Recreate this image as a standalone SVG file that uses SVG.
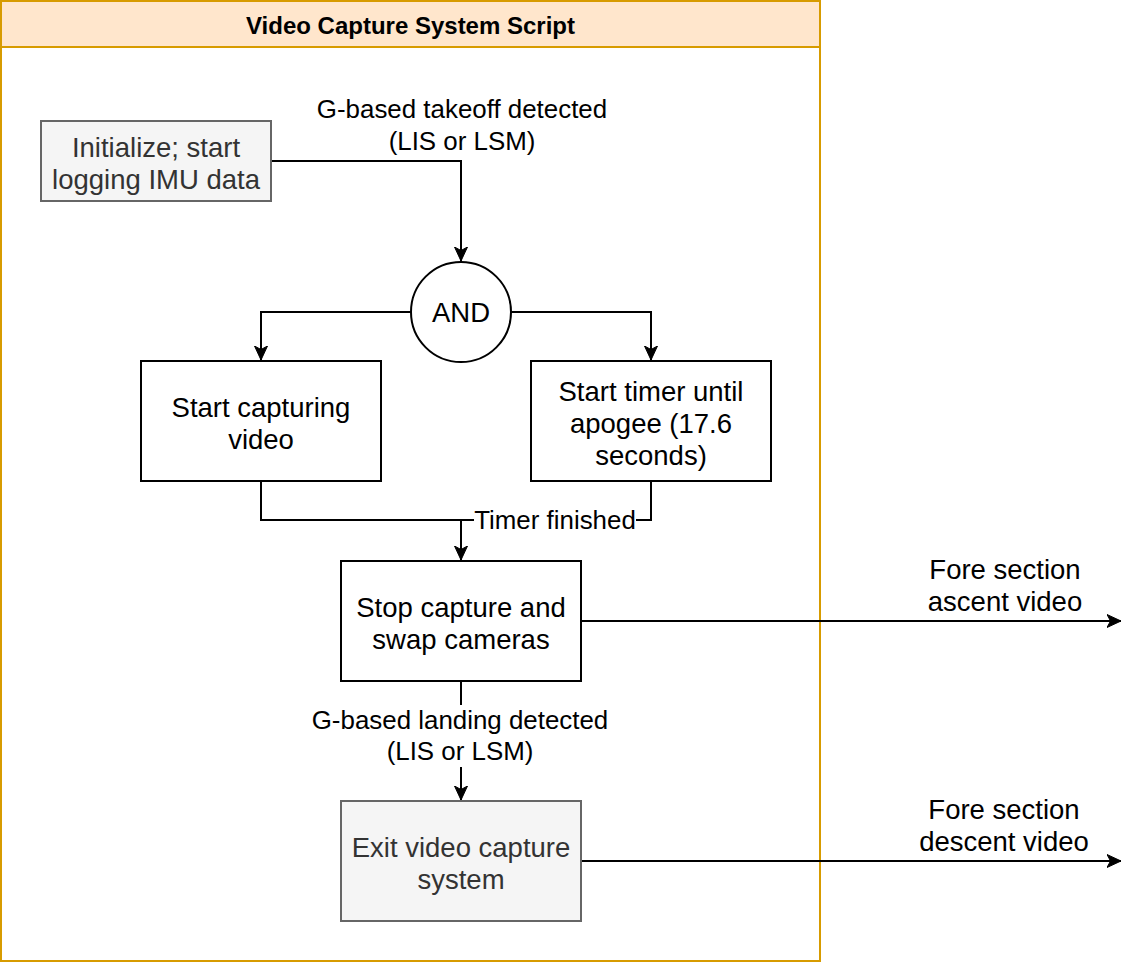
<svg xmlns="http://www.w3.org/2000/svg" width="1138" height="962" viewBox="0 0 1138 962">
<style>
.t{font-family:"Liberation Sans",Arial,Helvetica,sans-serif;text-anchor:middle;dominant-baseline:central}
.n{font-size:27.5px;fill:#000}
.g{font-size:27.5px;fill:#333}
.l{font-size:25.9px;fill:#000}
.f{font-size:27.5px;fill:#000}
.box{fill:#fff;stroke:#000;stroke-width:2}
.gbox{fill:#f5f5f5;stroke:#666;stroke-width:2}
.e{fill:none;stroke:#000;stroke-width:2}
</style>
<defs>
<marker id="a" markerUnits="userSpaceOnUse" markerWidth="16" markerHeight="16" refX="14" refY="8" orient="auto">
<path d="M0,1.5 L14,8 L0,14.5 L3.5,8 Z" fill="#000" stroke="#000" stroke-width="1"/>
</marker>
</defs>
<g id="container">
<rect x="1" y="1" width="819" height="960" fill="#fff" stroke="#d79b00" stroke-width="2"/>
<rect x="1" y="1" width="819" height="46" fill="#ffe6cc" stroke="#d79b00" stroke-width="2"/>
<text class="t" x="410.5" y="25" style="font-size:24px;font-weight:bold">Video Capture System Script</text>
</g>
<g id="connectors">
<path class="e" d="M271,161 H461 V261" marker-end="url(#a)"/>
<text class="t l" x="462" y="109">G-based takeoff detected</text>
<text class="t l" x="462" y="141">(LIS or LSM)</text>
<path class="e" d="M411,312 H261 V360" marker-end="url(#a)"/>
<path class="e" d="M511,312 H651 V360" marker-end="url(#a)"/>
<path class="e" d="M261,481 V520 H461 V560" marker-end="url(#a)"/>
<path class="e" d="M651,481 V520 H461"/>
<rect x="474" y="506" width="162" height="28" fill="#fff"/>
<text class="t l" x="555" y="520">Timer finished</text>
<path class="e" d="M581,621 H1121" marker-end="url(#a)"/>
<text class="t f" x="1005" y="569">Fore section</text>
<text class="t f" x="1005" y="601">ascent video</text>
<path class="e" d="M461,681 V800" marker-end="url(#a)"/>
<rect x="306" y="705" width="310" height="62" fill="#fff"/>
<text class="t l" x="460" y="720">G-based landing detected</text>
<text class="t l" x="460" y="751">(LIS or LSM)</text>
<path class="e" d="M581,861 H1121" marker-end="url(#a)"/>
<text class="t f" x="1004" y="809">Fore section</text>
<text class="t f" x="1004" y="841">descent video</text>
</g>
<g id="init">
<rect class="gbox" x="41" y="121" width="230" height="80"/>
<text class="t g" x="156" y="147">Initialize; start</text>
<text class="t g" x="156" y="179">logging IMU data</text>
</g>
<g id="and">
<circle cx="461" cy="312" r="50" fill="#fff" stroke="#000" stroke-width="2"/>
<text class="t n" x="461" y="312">AND</text>
</g>
<g id="startCapture">
<rect class="box" x="141" y="361" width="240" height="120"/>
<text class="t n" x="261" y="407">Start capturing</text>
<text class="t n" x="261" y="439">video</text>
</g>
<g id="startTimer">
<rect class="box" x="531" y="361" width="240" height="120"/>
<text class="t n" x="651" y="391">Start timer until</text>
<text class="t n" x="651" y="423">apogee (17.6</text>
<text class="t n" x="651" y="455">seconds)</text>
</g>
<g id="stopCapture">
<rect class="box" x="341" y="561" width="240" height="120"/>
<text class="t n" x="461" y="607">Stop capture and</text>
<text class="t n" x="461" y="639">swap cameras</text>
</g>
<g id="exit">
<rect class="gbox" x="341" y="801" width="240" height="120"/>
<text class="t g" x="461" y="847">Exit video capture</text>
<text class="t g" x="461" y="879">system</text>
</g>
</svg>
